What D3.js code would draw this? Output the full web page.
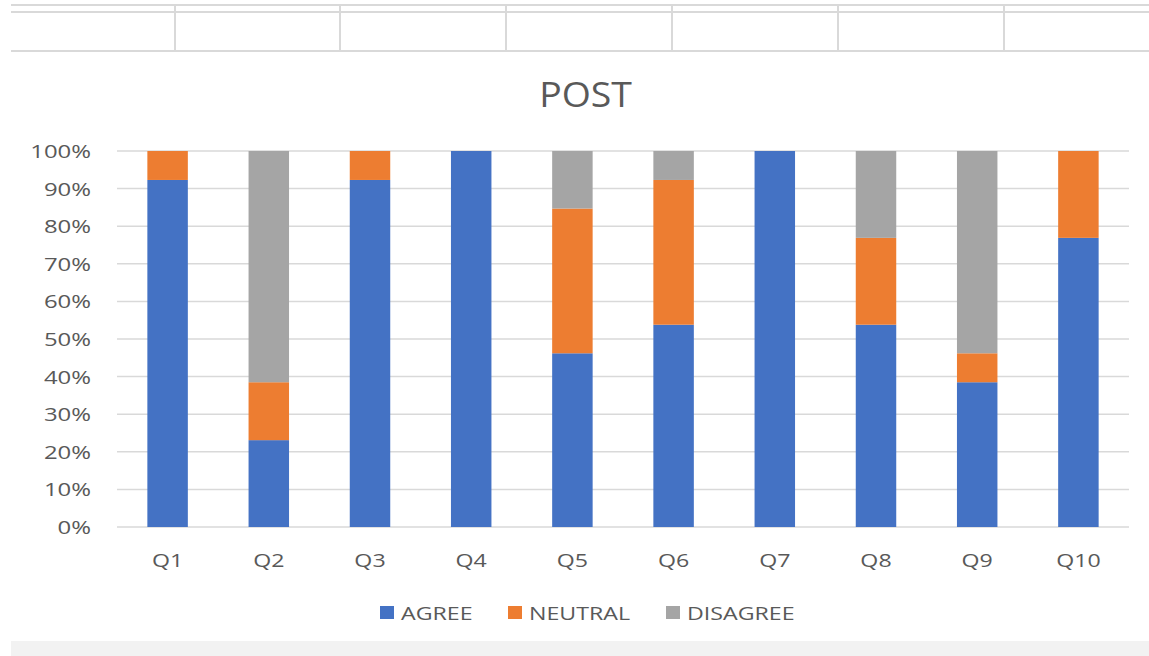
<!DOCTYPE html>
<html><head><meta charset="utf-8">
<script src="https://cdn.jsdelivr.net/npm/d3@7"></script>
<style>body{margin:0;background:#fff;}svg{display:block;font-family:"Open Sans","Noto Sans",sans-serif;}</style>
</head><body><svg id="c" width="1149" height="656"></svg>
<script>
const categories = ["Q1","Q2","Q3","Q4","Q5","Q6","Q7","Q8","Q9","Q10"];
const agree    = [92.3, 23.1, 92.3, 100, 46.2, 53.8, 100, 53.8, 38.5, 76.9];
const neutral  = [7.7, 15.4, 7.7, 0, 38.5, 38.5, 0, 23.1, 7.7, 23.1];
const disagree = [0, 61.5, 0, 0, 15.3, 7.7, 0, 23.1, 53.8, 0];
const seriesNames = ["AGREE","NEUTRAL","DISAGREE"];
const colors = ["#4472c4","#ed7d31","#a5a5a5"];
const yTicks = [0,10,20,30,40,50,60,70,80,90,100];
const title = "POST";

const svg = d3.select("#c");
// spreadsheet remnants at top
const g0 = svg.append("g").attr("stroke","#d9d9d9").attr("stroke-width",2);
g0.append("line").attr("x1",11).attr("x2",1149).attr("y1",5).attr("y2",5);
g0.append("line").attr("x1",11).attr("x2",1149).attr("y1",12).attr("y2",12);
g0.append("line").attr("x1",11).attr("x2",1149).attr("y1",51).attr("y2",51);
[175,340,506,672,838,1004].forEach(x=>g0.append("line").attr("x1",x).attr("x2",x).attr("y1",6).attr("y2",51));
svg.append("rect").attr("x",11).attr("y",641).attr("width",1138).attr("height",15).attr("fill","#f2f2f2");

const m = {l:117, r:1129, t:151, b:527};
const x = d3.scaleBand().domain(categories).range([m.l,m.r]).paddingInner(0.6).paddingOuter(0.3);
const y = d3.scaleLinear().domain([0,100]).range([m.b,m.t]);

svg.append("g").selectAll("line").data(yTicks).join("line")
  .attr("x1",m.l).attr("x2",m.r).attr("y1",d=>y(d)).attr("y2",d=>y(d))
  .attr("stroke","#d9d9d9").attr("stroke-width",1.5);

const rows = categories.map((c,i)=>({cat:c, AGREE:agree[i], NEUTRAL:neutral[i], DISAGREE:disagree[i]}));
const stack = d3.stack().keys(seriesNames)(rows);
svg.append("g").selectAll("g").data(stack).join("g").attr("fill",(d,i)=>colors[i])
  .selectAll("rect").data(d=>d).join("rect")
  .attr("x",d=>x(d.data.cat)).attr("width",x.bandwidth())
  .attr("y",d=>y(Math.min(100,d[1]))).attr("height",d=>Math.max(0,y(d[0])-y(Math.min(100,d[1]))));

const yAxis = d3.axisLeft(y).tickValues(yTicks).tickFormat(d=>d+"%").tickSize(0).tickPadding(0);
const ya = svg.append("g").attr("transform",`translate(91,0)`).call(yAxis);
ya.select(".domain").remove();
ya.selectAll("text").attr("font-size",18).attr("fill","#595959").attr("font-family","Open Sans, sans-serif")
  .attr("dy","0.36em").attr("transform","scale(1.33,1)");

const xAxis = d3.axisBottom(x).tickSize(0).tickPadding(0);
const xa = svg.append("g").attr("transform",`translate(0,${m.b})`).call(xAxis);
xa.select(".domain").remove();
xa.selectAll("text").attr("font-size",19).attr("fill","#595959").attr("font-family","Open Sans, sans-serif")
  .attr("y",33).attr("dy","0.35em").attr("transform","scale(1.22,1)");

svg.append("text").attr("transform","translate(585.5,95) scale(1.1,1)").attr("text-anchor","middle").attr("dy","0.36em")
  .attr("font-size",34).attr("fill","#595959").text(title);

const legX = [380, 508, 666];
const lg = svg.append("g").selectAll("g").data(seriesNames).join("g")
  .attr("transform",(d,i)=>`translate(${legX[i]},613)`);
lg.append("rect").attr("x",0).attr("y",-7).attr("width",14).attr("height",13).attr("fill",(d,i)=>colors[i]);
lg.append("text").attr("transform","translate(21,0) scale(1.22,1)").attr("dy","0.36em").attr("font-size",19).attr("fill","#595959").text(d=>d);
</script></body></html>
